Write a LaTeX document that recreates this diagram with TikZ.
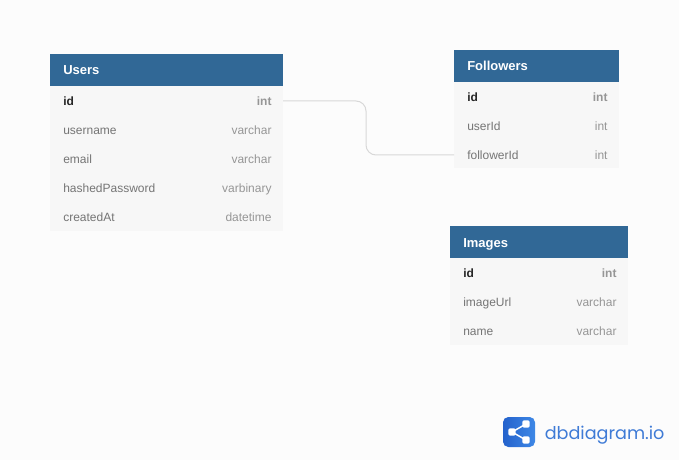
\documentclass[tikz,border=0pt]{standalone}
\usepackage{fontspec}
\setmainfont{Liberation Sans}
\newfontfamily\logofont{Poppins}
\usepackage{tikz}
\usetikzlibrary{positioning, calc}
\definecolor{pagebg}{HTML}{FCFCFC}
\definecolor{headblue}{HTML}{316896}
\definecolor{bodygray}{HTML}{F7F7F7}
\definecolor{fieldgray}{HTML}{757575}
\definecolor{typegray}{HTML}{969696}
\definecolor{linkgray}{HTML}{D8D8D8}
\definecolor{logoleft}{HTML}{2462CC}
\definecolor{logoright}{HTML}{3E88E6}
\definecolor{logotext}{HTML}{3F7BD6}
\tikzset{
  tablehead/.style={fill=headblue, inner sep=0pt, outer sep=0pt, anchor=north west},
  tablebody/.style={fill=bodygray, inner sep=0pt, outer sep=0pt, anchor=north west},
  field/.style={anchor=base west, inner sep=0pt, yshift=-0.5pt, text=fieldgray, font=\fontsize{9pt}{11pt}\selectfont},
  keyfield/.style={field, text=black!85, font=\bfseries\fontsize{9pt}{11pt}\selectfont},
  ftype/.style={anchor=base east, inner sep=0pt, xshift=0.6pt, yshift=-0.5pt, text=typegray, font=\fontsize{9pt}{11pt}\selectfont},
  keytype/.style={ftype, font=\bfseries\fontsize{9pt}{11pt}\selectfont},
  headtext/.style={anchor=base west, inner sep=0pt, text=white, font=\bfseries\fontsize{9.75pt}{11pt}\selectfont},
  link/.style={draw=linkgray, line width=0.75pt, rounded corners=7.5pt},
  sharedot/.style={fill=white, rounded corners=1pt, minimum size=5.4pt, inner sep=0pt}
}
\begin{document}
\begin{tikzpicture}[x=0.75pt, y=-0.75pt]
    \useasboundingbox (0,0) rectangle (679,460);
    \fill[pagebg] (0,0) rectangle (679,460);
    %% Users
    \node[tablebody, minimum width=174.75pt, minimum height=108.75pt] (usersbody) at (50,86) {};
    \node[tablehead, minimum width=174.75pt, minimum height=24pt] (usershead) at (50,54) {};
    \node[headtext] (userstitle) at (63,75) {Users};
    \node[keyfield] (usersid) at (63,105) {id};
    \node[keytype] (usersidtype) at (271,105) {int};
    \node[field] (username) at (63,134) {username};
    \node[ftype] (usernametype) at (271,134) {varchar};
    \node[field] (email) at (63,163) {email};
    \node[ftype] (emailtype) at (271,163) {varchar};
    \node[field] (hashedpw) at (63,192) {hashedPassword};
    \node[ftype] (hashedpwtype) at (271,192) {varbinary};
    \node[field] (createdat) at (63,221) {createdAt};
    \node[ftype] (createdattype) at (271,221) {datetime};
    %% Followers
    \node[tablebody, minimum width=123.75pt, minimum height=64.5pt] (followersbody) at (454,82) {};
    \node[tablehead, minimum width=123.75pt, minimum height=24pt] (followershead) at (454,50) {};
    \node[headtext] (followerstitle) at (467,71) {Followers};
    \node[keyfield] (followersid) at (467,101) {id};
    \node[keytype] (followersidtype) at (607,101) {int};
    \node[field] (userid) at (467,130) {userId};
    \node[ftype] (useridtype) at (607,130) {int};
    \node[field] (followerid) at (467,159) {followerId};
    \node[ftype] (followeridtype) at (607,159) {int};
    %% Images
    \node[tablebody, minimum width=133.5pt, minimum height=65.25pt] (imagesbody) at (450,258) {};
    \node[tablehead, minimum width=133.5pt, minimum height=24pt] (imageshead) at (450,226) {};
    \node[headtext] (imagestitle) at (463,247) {Images};
    \node[keyfield] (imagesid) at (463,277) {id};
    \node[keytype] (imagesidtype) at (616,277) {int};
    \node[field] (imageurl) at (463,306) {imageUrl};
    \node[ftype] (imageurltype) at (616,306) {varchar};
    \node[field] (imagename) at (463,335) {name};
    \node[ftype] (imagenametype) at (616,335) {varchar};
    %% the one relation
    \coordinate (linkfrom) at (283,101);
    \coordinate (linkto) at (454,155);
    \draw[link] (linkfrom) -- (366,101) -- (366,155) -- (linkto);
    %% logo
    \node[left color=logoleft, right color=logoright, rounded corners=4pt, minimum width=24pt, minimum height=22.5pt, inner sep=0pt] (logobox) at (519,432) {};
    \node[sharedot] (sharel) at (512,432) {};
    \node[sharedot] (sharet) at (526,424) {};
    \node[sharedot] (shareb) at (526,440) {};
    \draw[white, line width=1.1pt] (sharet.center) -- (sharel.center) -- (shareb.center);
    \node[anchor=base west, inner sep=0pt, text=logotext, font=\logofont\fontsize{13.2pt}{16pt}\selectfont] (logoname) at (544.5,439) {dbdiagram.io};
\end{tikzpicture}
\end{document}
